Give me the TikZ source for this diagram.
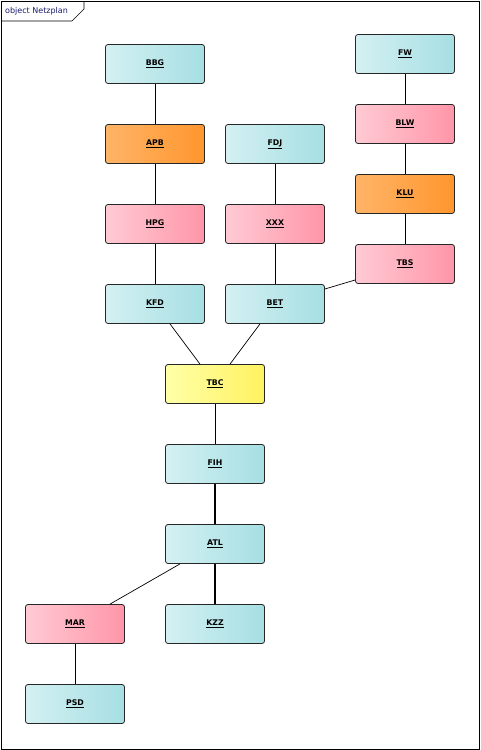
\documentclass[tikz,border=0pt]{standalone}
\usepackage{fontspec}
\setmainfont{DejaVu Sans}
\usetikzlibrary{shadings}
\definecolor{cyanL}{HTML}{D4F0F2}
\definecolor{cyanR}{HTML}{A6DFE3}
\definecolor{pinkL}{HTML}{FFCAD4}
\definecolor{pinkR}{HTML}{FF96A8}
\definecolor{oranL}{HTML}{FFB468}
\definecolor{oranR}{HTML}{FF962E}
\definecolor{yelL}{HTML}{FFFFA8}
\definecolor{yelR}{HTML}{FFF260}
\definecolor{navy}{HTML}{1A1A6E}
\newcommand{\myul}[1]{\raisebox{2pt}{\underline{#1}}}
\begin{document}
\begin{tikzpicture}[x=1pt,y=-1pt,
  obj/.style={draw=black!85,line width=0.8pt,rounded corners=2.5pt,minimum width=99pt,minimum height=39pt,inner sep=0pt,
    font=\fontsize{7.8}{9}\selectfont\bfseries},
  cy/.style={obj,left color=cyanL,right color=cyanR},
  pk/.style={obj,left color=pinkL,right color=pinkR},
  og/.style={obj,left color=oranL,right color=oranR},
  yl/.style={obj,left color=yelL,right color=yelR},
  link/.style={draw=black,line width=0.7pt},
  heavylink/.style={draw=black,line width=1.8pt}]
\useasboundingbox (0,0) rectangle (480,750);
\fill[white] (0,0) rectangle (480,750);
\draw[line width=0.7pt] (1,1) rectangle (479,749);
\draw[line width=0.7pt] (1,21) -- (72,21) -- (84,9) -- (84,1);
\node[anchor=west,inner sep=0pt,text=navy,font=\fontsize{8}{9}\selectfont] (title) at (5,11) {object Netzplan};

\node[cy] (BBG) at (155,64) {\myul{BBG}};
\node[og] (APB) at (155,144) {\myul{APB}};
\node[pk] (HPG) at (155,224) {\myul{HPG}};
\node[cy] (KFD) at (155,304) {\myul{KFD}};
\node[cy] (FDJ) at (275,144) {\myul{FDJ}};
\node[pk] (XXX) at (275,224) {\myul{XXX}};
\node[cy] (BET) at (275,304) {\myul{BET}};
\node[cy] (FW) at (405,54) {\myul{FW}};
\node[pk] (BLW) at (405,124) {\myul{BLW}};
\node[og] (KLU) at (405,194) {\myul{KLU}};
\node[pk] (TBS) at (405,264) {\myul{TBS}};
\node[yl] (TBC) at (215,384) {\myul{TBC}};
\node[cy] (FIH) at (215,464) {\myul{FIH}};
\node[cy] (ATL) at (215,544) {\myul{ATL}};
\node[pk] (MAR) at (75,624) {\myul{MAR}};
\node[cy] (KZZ) at (215,624) {\myul{KZZ}};
\node[cy] (PSD) at (75,704) {\myul{PSD}};

\draw[link] (BBG) -- (APB);
\draw[link] (APB) -- (HPG);
\draw[link] (HPG) -- (KFD);
\draw[link] (FDJ) -- (XXX);
\draw[link] (XXX) -- (BET);
\draw[link] (FW) -- (BLW);
\draw[link] (BLW) -- (KLU);
\draw[link] (KLU) -- (TBS);
\draw[link] ([yshift=15pt]BET.east) -- ([yshift=-16pt]TBS.west);
\draw[link] ([xshift=15pt]KFD.south) -- ([xshift=-15pt]TBC.north);
\draw[link] ([xshift=-15pt]BET.south) -- ([xshift=15pt]TBC.north);
\draw[link] (TBC) -- (FIH);
\draw[heavylink] (FIH) -- (ATL);
\draw[heavylink] (ATL) -- (KZZ);
\draw[link] ([xshift=-35pt]ATL.south) -- ([xshift=35pt]MAR.north);
\draw[link] (MAR) -- (PSD);
\end{tikzpicture}
\end{document}
